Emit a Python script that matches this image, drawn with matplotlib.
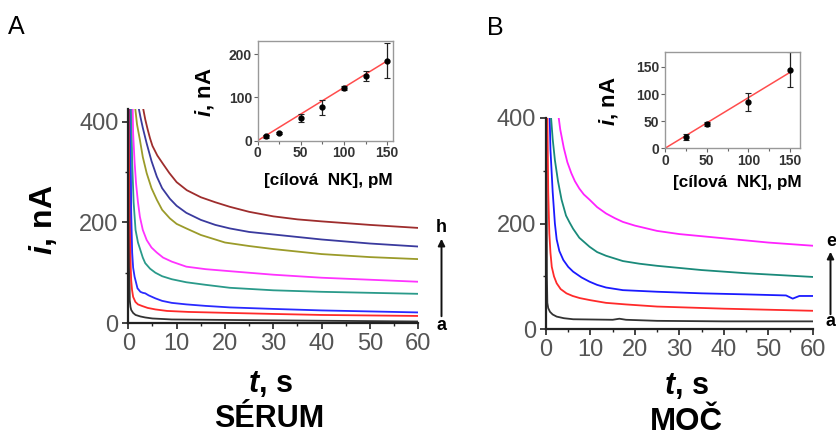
import numpy as np
import matplotlib
matplotlib.use("Agg")
import matplotlib.pyplot as plt

plt.rcParams['font.family'] = ['Liberation Sans', 'DejaVu Sans']
plt.rcParams['mathtext.fontset'] = 'custom'
plt.rcParams['mathtext.it'] = 'Liberation Sans:italic:bold'
plt.rcParams['mathtext.rm'] = 'Liberation Sans:bold'
plt.rcParams['mathtext.bf'] = 'Liberation Sans:bold'

# panel A (serum), curves a..h : time (s) and current (nA)
tA = {
    'a': [0.15, 0.2, 0.3, 0.45, 0.6, 1.0, 1.5, 2.5, 3.5, 5, 9, 21, 40, 60],
    'b': [0.3, 0.4, 0.5, 0.6, 0.77, 1.0, 1.46, 2, 2.8, 4, 5.6, 8, 12.5, 21, 30, 40, 50, 60],
    'c': [0.45, 0.6, 0.8, 1.0, 1.3, 1.9, 2.5, 3.0, 3.5, 4.2, 5.6, 7, 9, 12, 16, 21, 30, 40, 50, 60],
    'd': [0.6, 0.8, 1.1, 1.5, 2.0, 2.5, 3.0, 3.5, 4.5, 5.6, 7, 9, 12, 15.9, 21, 30, 40, 50, 60],
    'e': [0.9, 1.0, 1.3, 1.6, 2.0, 2.4, 3.0, 3.8, 4.8, 5.9, 7.2, 9, 12, 16, 21, 30, 40, 50, 60],
    'f': [1.4, 1.8, 2.4, 3, 3.8, 4.8, 5.9, 7, 8.6, 10, 12, 15, 20, 25, 30, 40, 50, 60],
    'g': [2.1, 2.5, 3, 3.8, 4.8, 5.9, 7, 8.6, 10, 12, 15, 18, 21, 25, 30, 40, 50, 60],
    'h': [3.0, 3.5, 4, 4.5, 5, 6, 7.2, 8.5, 10, 12.1, 15, 18, 21, 25, 30, 35, 40, 50, 60],
}
iA = {
    'a': [430, 150, 45, 32, 26, 20, 16, 13, 11, 9, 7, 6, 4.5, 3],
    'b': [430, 180, 110, 85, 66, 52, 42, 37, 34, 30, 27, 24, 22, 20, 18, 16, 15, 14],
    'c': [430, 220, 140, 110, 92, 69, 62, 60, 59, 55, 49, 44, 40, 37, 34, 31, 28, 25, 23, 21],
    'd': [430, 320, 240, 185, 160, 145, 130, 119, 108, 100, 93, 87, 81, 76, 70, 65, 62, 60, 58],
    'e': [430, 377, 320, 278, 240, 211, 185, 165, 150, 140, 130, 122, 112, 107, 103, 96, 90, 86, 82],
    'f': [430, 395, 364, 330, 298, 268, 245, 225, 208, 197, 188, 175, 160, 153, 147, 137, 131, 127],
    'g': [430, 410, 388, 357, 322, 291, 268, 247, 233, 219, 205, 195, 188, 181, 176, 166, 158, 152],
    'h': [430, 405, 385, 367, 352, 333, 316, 298, 280, 264, 250, 240, 231, 221, 212, 206, 202, 195, 189],
}
colA = {'a': '#333333', 'b': '#ff2a2a', 'c': '#2a2aff', 'd': '#2a9a8a',
        'e': '#ff33ff', 'f': '#9b9b2a', 'g': '#3a3a9e', 'h': '#9e2d2d'}

# panel B (urine), curves a..e
tB = {
    'a': [0.1, 0.2, 0.3, 0.5, 0.9, 1.5, 2.4, 4, 6.1, 15, 16.5, 18, 25, 40, 60],
    'b': [0.3, 0.5, 0.75, 1.0, 1.3, 1.8, 2.4, 3.3, 4.6, 6, 7.6, 10, 13.5, 18, 25, 40, 60],
    'c': [0.8, 1.0, 1.5, 2.0, 2.4, 3.0, 3.9, 5, 6.1, 8, 9.8, 11.5, 13.5, 17.3, 25, 35, 45, 54, 55.5, 57, 60],
    'd': [1.05, 1.5, 2, 2.7, 3.5, 4.5, 5.3, 6.1, 7.5, 9.8, 11.5, 13.5, 17.3, 21, 25, 30, 35, 45, 60],
    'e': [2.7, 3.2, 4, 4.8, 5.7, 6.5, 7.5, 8.5, 9.8, 11.5, 13.5, 15.5, 17.3, 20, 25, 30, 35, 40, 50, 60],
}
iB = {
    'a': [410, 100, 50, 40, 33, 28, 24, 21, 19, 18, 20, 18, 16, 15, 15],
    'b': [410, 260, 181, 145, 118, 100, 87, 76, 68, 63, 59, 55, 50, 47, 43, 39, 35],
    'c': [410, 340, 260, 200, 170, 148, 131, 118, 109, 98, 90, 84, 79, 74, 71, 68, 66, 64, 58, 63, 63],
    'd': [410, 360, 320, 280, 245, 215, 202, 190, 173, 156, 146, 139, 129, 124, 120, 116, 112, 106, 99],
    'e': [410, 378, 343, 316, 295, 280, 266, 255, 245, 231, 219, 210, 203, 196, 186, 180, 176, 172, 164, 158],
}
colB = {'a': '#333333', 'b': '#ff2a2a', 'c': '#1a1aff', 'd': '#1a8a7a', 'e': '#ff22ff'}

# calibration insets
concA = [10, 25, 50, 75, 100, 125, 150]
meanA = [10, 18, 52, 77, 121, 150, 185]
errA = [4, 3, 9, 17, 5, 11, 41]
slopeA = 1.23

concB = [25, 50, 100, 150]
meanB = [21, 45, 85, 145]
errB = [6, 3, 17, 32]
slopeB = 0.933

W, H = 836, 437
fig = plt.figure(figsize=(W / 100, H / 100), dpi=100)


def rect(x0, y0, x1, y1):
    return [x0 / W, 1 - y1 / H, (x1 - x0) / W, (y1 - y0) / H]


def fx(px):
    return px / W


def fy(py):
    return 1 - py / H


def style_main(ax, ytop):
    ax.set_xlim(0, 60)
    ax.set_ylim(0, ytop)
    for s in ['top', 'right']:
        ax.spines[s].set_visible(False)
    for s in ['left', 'bottom']:
        ax.spines[s].set_linewidth(1.6)
        ax.spines[s].set_color('#222222')
    ax.set_xticks(range(0, 61, 10))
    ax.set_xticks(range(5, 60, 10), minor=True)
    ax.set_yticks([0, 200, 400])
    ax.set_yticks([100, 300], minor=True)
    ax.tick_params(which='major', direction='out', length=4, width=1.2,
                   labelsize=17, labelcolor='#555555', color='#222222', pad=3)
    ax.tick_params(which='minor', direction='out', length=2.5, width=1,
                   color='#222222')


def style_inset(ax, xmax, ymax, yticks):
    ax.set_xlim(0, xmax)
    ax.set_ylim(0, ymax)
    for s in ax.spines.values():
        s.set_color('#999999')
        s.set_linewidth(1)
    ax.set_xticks([0, 50, 100, 150])
    ax.set_xticks([25, 75, 125], minor=True)
    ax.set_yticks(yticks)
    ax.tick_params(which='major', direction='out', length=3, width=0.8,
                   labelsize=10, labelcolor='#333333', color='#666666', pad=1)
    ax.tick_params(which='minor', direction='out', length=2, width=0.8,
                   color='#666666')
    for lab in ax.get_xticklabels() + ax.get_yticklabels():
        lab.set_fontweight('bold')


# ---- panel A
axA = fig.add_axes(rect(128.3, 109.2, 418.3, 323))
for k in tA:
    axA.plot(tA[k], iA[k], color=colA[k], lw=1.3, clip_on=True)
style_main(axA, 425)

# ---- panel B
axB = fig.add_axes(rect(546, 117.7, 812.7, 329.3))
for k in tB:
    axB.plot(tB[k], iB[k], color=colB[k], lw=1.3, clip_on=True)
style_main(axB, 400)

# ---- insets
insA = fig.add_axes(rect(257.5, 40.7, 393.3, 140.7))
xx = np.array([0, max(concA)])
insA.plot(xx, slopeA * xx, color='#ff4d4d', lw=1.1)
insA.errorbar(concA, meanA, yerr=errA, fmt='o', ms=3.5, color='black',
              ecolor='#222222', elinewidth=0.9, capsize=2, capthick=0.8)
style_inset(insA, 157, 231, [0, 100, 200])

insB = fig.add_axes(rect(665, 51.7, 800, 148.3))
xx = np.array([0, max(concB)])
insB.plot(xx, slopeB * xx, color='#ff4d4d', lw=1.1)
insB.errorbar(concB, meanB, yerr=errB, fmt='o', ms=3.5, color='black',
              ecolor='#222222', elinewidth=0.9, capsize=2, capthick=0.8)
style_inset(insB, 162, 178, [0, 50, 100, 150])

# ---- labels
fig.text(fx(8), fy(27), 'A', fontsize=18, va='center', ha='left')
fig.text(fx(487), fy(28), 'B', fontsize=18, va='center', ha='left')

fig.text(fx(43), fy(220), r'$i$, nA', fontsize=23, fontweight='bold',
         rotation=90, ha='center', va='center')
fig.text(fx(270), fy(384), r'$t$, s', fontsize=22, fontweight='bold',
         ha='center', va='center')
fig.text(fx(269), fy(419), 'SÉRUM', fontsize=22, fontweight='bold',
         ha='center', va='center')
fig.text(fx(686), fy(386), r'$t$, s', fontsize=22, fontweight='bold',
         ha='center', va='center')
fig.text(fx(686), fy(422), 'MOČ', fontsize=22.5, fontweight='bold',
         ha='center', va='center')

fig.text(fx(204), fy(92), r'$i$, nA', fontsize=16, fontweight='bold',
         rotation=90, ha='center', va='center')
fig.text(fx(328), fy(180), '[cílová  NK], pM', fontsize=12.3, fontweight='bold',
         ha='center', va='center')
fig.text(fx(608), fy(101), r'$i$, nA', fontsize=16, fontweight='bold',
         rotation=90, ha='center', va='center')
fig.text(fx(737), fy(183), '[cílová  NK], pM', fontsize=12.3, fontweight='bold',
         ha='center', va='center')

# concentration arrows a -> h / a -> e
arrow = dict(arrowstyle='-|>', color='#111111', lw=1.4, mutation_scale=10)
fig.add_artist(matplotlib.patches.FancyArrowPatch(
    (fx(441.5), fy(319)), (fx(441.5), fy(236)), transform=fig.transFigure, **arrow))
fig.text(fx(441.5), fy(228), 'h', fontsize=13, fontweight='bold', ha='center', va='center')
fig.text(fx(441.5), fy(326), 'a', fontsize=13, fontweight='bold', ha='center', va='center')

fig.add_artist(matplotlib.patches.FancyArrowPatch(
    (fx(830.5), fy(317)), (fx(830.5), fy(249)), transform=fig.transFigure, **arrow))
fig.text(fx(831), fy(242), 'e', fontsize=13, fontweight='bold', ha='center', va='center')
fig.text(fx(831), fy(322), 'a', fontsize=13, fontweight='bold', ha='center', va='center')

fig.savefig('out.png', dpi=100)
